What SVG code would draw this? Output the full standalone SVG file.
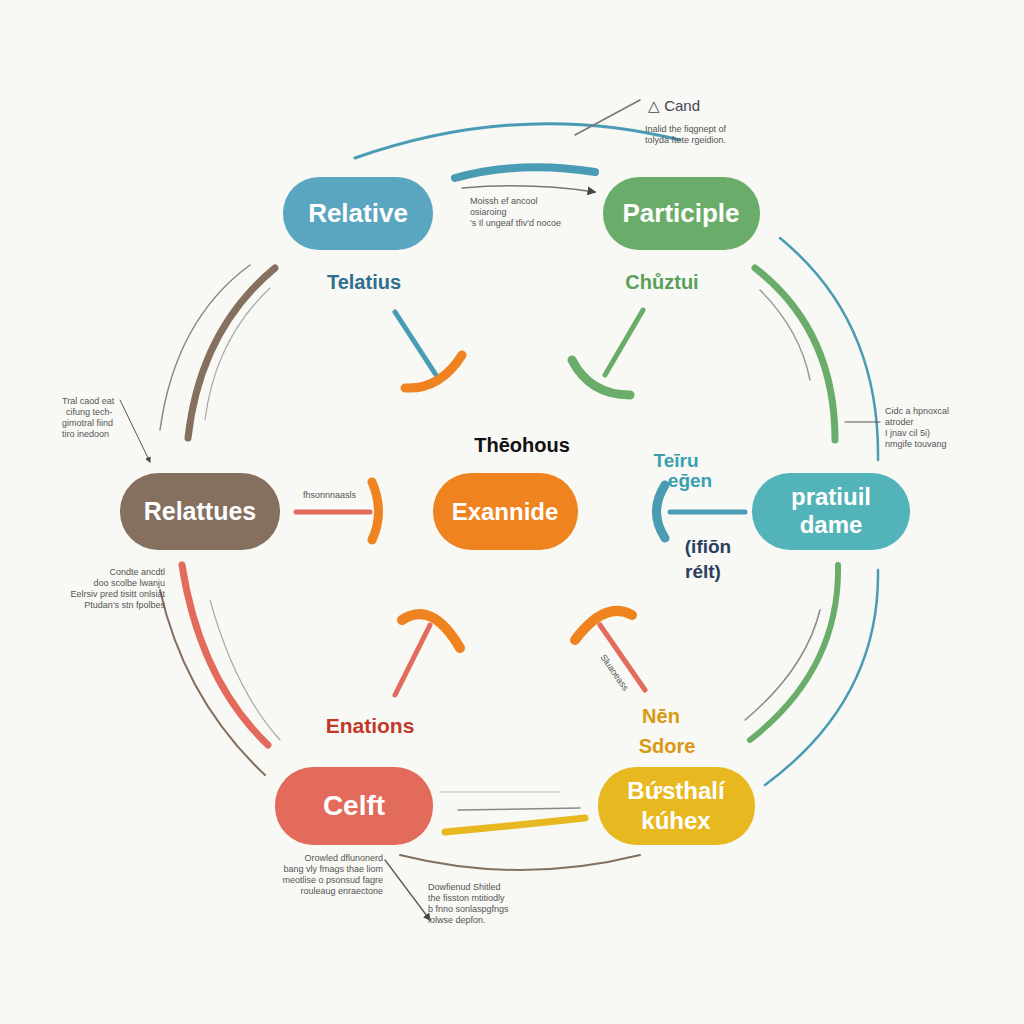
<svg xmlns="http://www.w3.org/2000/svg" width="1024" height="1024" viewBox="0 0 1024 1024">
<style>
.n{font-family:"Liberation Sans",Arial,sans-serif;font-weight:bold;fill:#fff;text-anchor:middle}
.l{font-family:"Liberation Sans",Arial,sans-serif;font-weight:bold;text-anchor:middle}
.s{font-family:"Liberation Sans",Arial,sans-serif;font-size:9px;fill:#555}
.t{fill:none;stroke-linecap:round}
</style>
<defs><marker id="a" markerWidth="6" markerHeight="6" refX="5" refY="3" orient="auto"><path d="M0,0L6,3L0,6z" fill="#444"/></marker></defs>
<rect width="1024" height="1024" fill="#f8f8f4"/>
<g id="connectors">
<path class="t" d="M355,158 Q520,100 680,140" stroke="#4a9bb4" stroke-width="3"/>
<path class="t" d="M455,178 Q520,160 595,172" stroke="#4a9bb4" stroke-width="8"/>
<path class="t" d="M462,188 Q530,182 595,192" stroke="#777" stroke-width="1.5" marker-end="url(#a)"/>
<path class="t" d="M575,135 L640,100" stroke="#777" stroke-width="1.5"/>
<path class="t" d="M780,238 Q880,320 878,460" stroke="#4a9bb4" stroke-width="2.5"/>
<path class="t" d="M755,268 Q835,330 835,440" stroke="#6aad6a" stroke-width="7"/>
<path class="t" d="M760,290 Q800,330 810,380" stroke="#999" stroke-width="1.5"/>
<path class="t" d="M878,570 Q880,700 765,785" stroke="#4a9bb4" stroke-width="2.5"/>
<path class="t" d="M838,565 Q840,670 750,740" stroke="#6aad6a" stroke-width="6"/>
<path class="t" d="M820,610 Q805,670 745,720" stroke="#888" stroke-width="1.5"/>
<path class="t" d="M275,268 Q200,330 188,438" stroke="#85705f" stroke-width="7"/>
<path class="t" d="M250,265 Q175,320 160,430" stroke="#888" stroke-width="1.5"/>
<path class="t" d="M270,288 Q215,340 205,420" stroke="#aaa" stroke-width="1.2"/>
<path class="t" d="M182,565 Q200,680 268,745" stroke="#e26b5b" stroke-width="7"/>
<path class="t" d="M160,590 Q185,700 265,775" stroke="#85705f" stroke-width="2"/>
<path class="t" d="M210,600 Q235,690 280,740" stroke="#aaa" stroke-width="1.2"/>
<path class="t" d="M445,832 Q520,825 585,818" stroke="#e8b820" stroke-width="7"/>
<path class="t" d="M458,810 L580,808" stroke="#888" stroke-width="1.5"/>
<path class="t" d="M400,855 Q520,885 640,855" stroke="#85705f" stroke-width="2"/>
<path class="t" d="M440,792 L560,792" stroke="#bbb" stroke-width="1"/>
<path class="t" d="M395,312 L438,378" stroke="#4a9bb4" stroke-width="5"/>
<path class="t" d="M405,388 Q440,390 462,355" stroke="#ef8320" stroke-width="9"/>
<path class="t" d="M643,310 L605,375" stroke="#6aad6a" stroke-width="5"/>
<path class="t" d="M572,360 Q590,395 630,395" stroke="#6aad6a" stroke-width="9"/>
<path class="t" d="M296,512 L370,512" stroke="#e26b5b" stroke-width="5"/>
<path class="t" d="M372,482 Q385,512 372,540" stroke="#ef8320" stroke-width="9"/>
<path class="t" d="M670,512 L745,512" stroke="#4a9bb4" stroke-width="5"/>
<path class="t" d="M665,485 Q648,512 665,538" stroke="#4a9bb4" stroke-width="9"/>
<path class="t" d="M395,695 L430,625" stroke="#e26b5b" stroke-width="5"/>
<path class="t" d="M402,620 Q432,600 460,648" stroke="#ef8320" stroke-width="10"/>
<path class="t" d="M600,625 L645,690" stroke="#e26b5b" stroke-width="5"/>
<path class="t" d="M575,640 Q605,600 632,615" stroke="#ef8320" stroke-width="10"/>
<path class="t" d="M120,400 L150,462" stroke="#555" stroke-width="1" marker-end="url(#a)"/>
<path class="t" d="M880,422 L845,422" stroke="#555" stroke-width="1"/>
<path class="t" d="M385,860 L430,920" stroke="#555" stroke-width="1.3" marker-end="url(#a)"/>
</g>
<g id="n1"><rect x="283" y="177" width="150" height="73" rx="36" fill="#5aa5bf"/><text class="n" x="358" y="222" font-size="26">Relative</text></g>
<g id="n2"><rect x="603" y="177" width="157" height="73" rx="36" fill="#6aad6a"/><text class="n" x="681" y="222" font-size="26">Participle</text></g>
<g id="n3"><rect x="120" y="473" width="160" height="77" rx="38" fill="#85705f"/><text class="n" x="200" y="520" font-size="25">Relattues</text></g>
<g id="n4"><rect x="433" y="473" width="145" height="77" rx="38" fill="#ef8320"/><text class="n" x="505" y="520" font-size="24">Exannide</text></g>
<g id="n5"><rect x="752" y="473" width="158" height="77" rx="38" fill="#52b3b8"/><text class="n" x="831" y="505" font-size="24">pratiuil</text><text class="n" x="831" y="533" font-size="24">dame</text></g>
<g id="n6"><rect x="275" y="767" width="158" height="78" rx="38" fill="#e26b5b"/><text class="n" x="354" y="815" font-size="28">Celft</text></g>
<g id="n7"><rect x="598" y="767" width="157" height="78" rx="38" fill="#e8b820"/><text class="n" x="676" y="799" font-size="24">Bứsthalí</text><text class="n" x="676" y="829" font-size="24">kúhex</text></g>
<g id="labels">
<text class="l" x="364" y="289" font-size="20" fill="#2f6f8f">Telatius</text>
<text class="l" x="662" y="289" font-size="20" fill="#5aa05a">Chůztui</text>
<text class="l" x="522" y="452" font-size="20" fill="#111">Thēohous</text>
<text class="l" x="676" y="467" font-size="19" fill="#3a9fb0">Teīru</text>
<text class="l" x="690" y="487" font-size="19" fill="#3a9fb0">eḡen</text>
<text class="l" x="708" y="553" font-size="19" fill="#2a3f5f">(ifiōn</text>
<text class="l" x="703" y="578" font-size="19" fill="#2a3f5f">rélt)</text>
<text class="l" x="370" y="733" font-size="21" fill="#c0392b">Enations</text>
<text class="l" x="661" y="723" font-size="20" fill="#d89a10">Nēn</text>
<text class="l" x="667" y="753" font-size="20" fill="#d89a10">Sdore</text>
<text x="648" y="111" font-family="Liberation Sans,sans-serif" font-size="15" fill="#445" stroke="none">△ Cand</text>
<text class="s" x="645" y="132">Inalid the fiqgnept of</text>
<text class="s" x="645" y="143">tolyda ftete rgeidion.</text>
<text class="s" x="470" y="204">Moissh ef ancool</text>
<text class="s" x="470" y="215">osiaroing</text>
<text class="s" x="470" y="226">'s Il ungeaf tfiv'd nocoe</text>
<text class="s" x="62" y="404">Tral caod eat</text>
<text class="s" x="66" y="415">cifung tech-</text>
<text class="s" x="62" y="426">gimotral fiind</text>
<text class="s" x="62" y="437">tiro inedoon</text>
<text class="s" x="165" y="575" text-anchor="end">Condte ancdtl</text>
<text class="s" x="165" y="586" text-anchor="end">doo scolbe lwanju</text>
<text class="s" x="165" y="597" text-anchor="end">Eelrsiv pred tisitt onlsiat</text>
<text class="s" x="165" y="608" text-anchor="end">Ptudan's stn fpolbes</text>
<text class="s" x="885" y="414">Cidc a hpnoxcal</text>
<text class="s" x="885" y="425">atroder</text>
<text class="s" x="885" y="436">I jnav cil 5i)</text>
<text class="s" x="885" y="447">nmgife touvang</text>
<text class="s" x="383" y="861" text-anchor="end">Orowled dflunonerd</text>
<text class="s" x="383" y="872" text-anchor="end">bang vly fmags thae liom</text>
<text class="s" x="383" y="883" text-anchor="end">meotlise o psonsud fagre</text>
<text class="s" x="383" y="894" text-anchor="end">rouleaug enraectone</text>
<text class="s" x="428" y="890">Dowfienud Shitled</text>
<text class="s" x="428" y="901">the fisston mtitiodly</text>
<text class="s" x="428" y="912">b fnno sonlaspgfngs</text>
<text class="s" x="428" y="923">lolwse depfon.</text>
<text class="s" x="303" y="498" font-size="7">fhsonnnaasls</text>
<text class="s" x="600" y="657" font-size="7" transform="rotate(55 600 657)">Sluaoeass</text>
</g>
</svg>
